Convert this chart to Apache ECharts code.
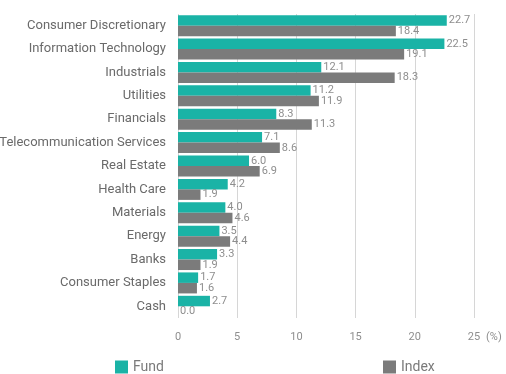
<!DOCTYPE html>
<html><head><meta charset="utf-8">
<script src="https://cdn.jsdelivr.net/npm/echarts@6/dist/echarts.min.js"></script>
<style>html,body{margin:0;padding:0;background:#fff}#c{width:506px;height:374px}</style>
</head><body><div id="c"></div>
<script>
const categories = ["Consumer Discretionary","Information Technology","Industrials","Utilities","Financials","Telecommunication Services","Real Estate","Health Care","Materials","Energy","Banks","Consumer Staples","Cash"];
const fundValues = [22.7,22.5,12.1,11.2,8.3,7.1,6.0,4.2,4.0,3.5,3.3,1.7,2.7];
const indexValues = [18.4,19.1,18.3,11.9,11.3,8.6,6.9,1.9,4.6,4.4,1.9,1.6,0.0];
const xTicks = [0,5,10,15,20,25];

const FONT = 'Roboto';
const chart = echarts.init(document.getElementById('c'));
const lbl = {show:true, position:'right', distance:2, fontSize:11, color:'#8e8e8e', fontFamily:FONT, formatter:p=>p.value.toFixed(1)};
chart.setOption({
  animation:false,
  backgroundColor:'#fff',
  grid:{left:178, right:32, top:14, bottom:56, containLabel:false, outerBoundsMode:'none'},
  legend:[
    {left:115, top:360, padding:0, itemWidth:13, itemHeight:13, itemGap:4, icon:'rect', data:['Fund'], textStyle:{fontSize:14, color:'#7a7a7a', fontFamily:FONT, padding:[2,0,0,0]}},
    {left:383, top:360, padding:0, itemWidth:13, itemHeight:13, itemGap:4, icon:'rect', data:['Index'], textStyle:{fontSize:14, color:'#7a7a7a', fontFamily:FONT, padding:[2,0,0,0]}}
  ],
  xAxis:{type:'value', min:xTicks[0], max:xTicks[xTicks.length-1], interval:5,
    name:'(%)', nameLocation:'end', nameGap:3,
    nameTextStyle:{fontSize:11, color:'#8e8e8e', fontFamily:FONT, verticalAlign:'top', padding:[14,0,0,0]},
    axisLine:{show:false}, axisTick:{show:false},
    axisLabel:{fontSize:11, color:'#8e8e8e', fontFamily:FONT, margin:14},
    splitLine:{lineStyle:{color:'#d6d6d6', width:1}}},
  yAxis:{type:'category', data:categories, inverse:true,
    axisLine:{show:false}, axisTick:{show:false},
    axisLabel:{fontSize:13, color:'#6a6a6a', fontFamily:FONT, margin:12}},
  series:[
    {name:'Fund', type:'bar', data:fundValues, barWidth:10.5, barGap:'0%', itemStyle:{color:'#1ab3a6'}, label:lbl},
    {name:'Index', type:'bar', data:indexValues, barWidth:10.5, barGap:'0%', itemStyle:{color:'#7b7b7b'}, label:lbl}
  ]
});
</script></body></html>
